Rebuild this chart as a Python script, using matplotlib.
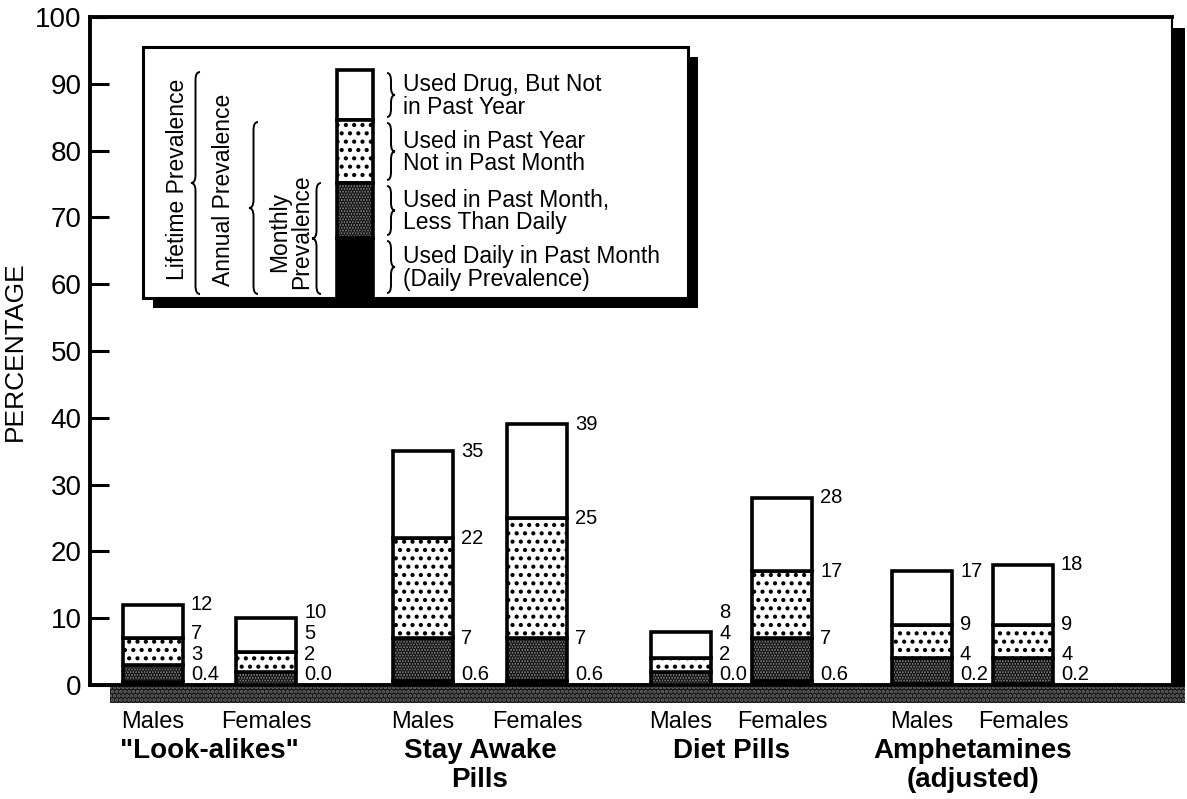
import numpy as np
import matplotlib
matplotlib.use("Agg")
import matplotlib.pyplot as plt
from matplotlib.patches import Rectangle, PathPatch
from matplotlib.path import Path

plt.rcParams['font.family'] = ['Liberation Sans', 'DejaVu Sans']
plt.rcParams['hatch.linewidth'] = 1.8

# prevalence by drug and sex (percent)
drugs = ['"Look-alikes"', 'Stay Awake\nPills', 'Diet Pills', 'Amphetamines\n(adjusted)']
sexes = ['Males', 'Females']
lifetime = [12, 10, 35, 39, 8, 28, 17, 18]
annual = [7, 5, 22, 25, 4, 17, 9, 9]
monthly = [3, 2, 7, 7, 2, 7, 4, 4]
daily = [0.4, 0.0, 0.6, 0.6, 0.0, 0.6, 0.2, 0.2]
daily_txt = ['0.4', '0.0', '0.6', '0.6', '0.0', '0.6', '0.2', '0.2']

# bar centres on a pixel-like x scale
xpos = [153, 266, 423, 537, 681, 782, 922, 1023]
bw = 60

W, H = 1187, 799
fig = plt.figure(figsize=(W / 100, H / 100), dpi=100)
ax = fig.add_axes([90 / W, 1 - 685 / H, (1172 - 90) / W, (685 - 17) / H])
ax.set_xlim(90, 1172)
ax.set_ylim(0, 100)

lw = 2.6
dot_fill = dict(facecolor='white', edgecolor='black', hatch='..', linewidth=lw)
grey_fill = dict(facecolor='#8e8e8e', edgecolor='black', hatch='......', linewidth=lw)

for i, x in enumerate(xpos):
    ax.bar(x, daily[i], bw, color='black', edgecolor='black', linewidth=lw, zorder=3)
    ax.bar(x, monthly[i] - daily[i], bw, bottom=daily[i], zorder=3, **grey_fill)
    ax.bar(x, annual[i] - monthly[i], bw, bottom=monthly[i], zorder=3, **dot_fill)
    ax.bar(x, lifetime[i] - annual[i], bw, bottom=annual[i], zorder=3,
           facecolor='white', edgecolor='black', linewidth=lw)

    # value labels, pushed apart when the segments are thin
    tx = x + bw / 2 + 8
    y0 = 1.5
    y1 = max(monthly[i], y0 + 3.1)
    y2 = max(annual[i], y1 + 3.1)
    y3 = max(lifetime[i], y2 + 3.1)
    for yy, s in [(y0, daily_txt[i]), (y1, str(monthly[i])), (y2, str(annual[i])), (y3, str(lifetime[i]))]:
        ax.text(tx, yy, s, fontsize=14.5, va='center', ha='left', zorder=4)

ax.set_yticks(np.arange(0, 101, 10))
ax.tick_params(axis='y', direction='in', length=14, width=2.2, labelsize=20, pad=6)
ax.set_xticks(xpos)
ax.set_xticklabels(sexes * 4, fontsize=17)
ax.tick_params(axis='x', length=0, pad=19)
ax.set_ylabel('PERCENTAGE', fontsize=19, labelpad=6)
for sp in ['left', 'top', 'bottom']:
    ax.spines[sp].set_linewidth(2.8)
ax.spines['right'].set_linewidth(1.5)

for k, name in enumerate(drugs):
    gx = (xpos[2 * k] + xpos[2 * k + 1]) / 2
    ax.text(gx, -0.080, name, transform=ax.get_xaxis_transform(), ha='center', va='top',
            fontsize=20, fontweight='bold', linespacing=1.15)

# overlay in pixel units for the shadows and the key
lay = fig.add_axes([0, 0, 1, 1], zorder=5)
lay.set_xlim(0, W)
lay.set_ylim(H, 0)
lay.axis('off')
lay.patch.set_alpha(0)

lay.add_patch(Rectangle((1172, 28), 13, 662, facecolor='black', edgecolor='none'))
lay.add_patch(Rectangle((110, 687), 1075, 16, facecolor='#141414', edgecolor='none'))
lay.add_patch(Rectangle((110, 687), 1075, 16, facecolor='none', edgecolor='#6e6e6e',
                        hatch='....', linewidth=0))


def brace(x, y0, y1, w, right=False):
    # curly brace in pixel units; the tip points left unless right=True
    s = -1 if right else 1
    ym = (y0 + y1) / 2
    c = min(8, (y1 - y0) / 4)
    xs = x + s * w / 2
    verts = [(x + s * w, y0), (xs, y0), (xs, y0 + c),
             (xs, ym - c), (xs, ym), (x, ym),
             (xs, ym), (xs, ym + c),
             (xs, y1 - c), (xs, y1), (x + s * w, y1)]
    codes = [Path.MOVETO, Path.CURVE3, Path.CURVE3,
             Path.LINETO, Path.CURVE3, Path.CURVE3,
             Path.CURVE3, Path.CURVE3,
             Path.LINETO, Path.CURVE3, Path.CURVE3]
    lay.add_patch(PathPatch(Path(verts, codes), facecolor='none', edgecolor='black', lw=1.4))


lay.add_patch(Rectangle((153, 57), 545, 251, facecolor='black', edgecolor='none'))
lay.add_patch(Rectangle((143, 47), 545, 251, facecolor='white', edgecolor='black', linewidth=2.2))

seg = [70, 120, 183, 238, 296]
lay.add_patch(Rectangle((337, seg[0]), 36, seg[1] - seg[0], facecolor='white', edgecolor='black', linewidth=lw))
lay.add_patch(Rectangle((337, seg[1]), 36, seg[2] - seg[1], **dot_fill))
lay.add_patch(Rectangle((337, seg[2]), 36, seg[3] - seg[2], **grey_fill))
lay.add_patch(Rectangle((337, seg[3]), 36, seg[4] - seg[3], facecolor='black', edgecolor='black', linewidth=lw))

key_txt = ['Used Drug, But Not\nin Past Year', 'Used in Past Year\nNot in Past Month',
           'Used in Past Month,\nLess Than Daily', 'Used Daily in Past Month\n(Daily Prevalence)']
for j in range(4):
    brace(395, seg[j] + 3, seg[j + 1] - 3, 8, right=True)
    lay.text(403, (seg[j] + seg[j + 1]) / 2 + 1, key_txt[j], fontsize=16.5, va='center', ha='left',
             linespacing=1.0)

brace(191, seg[0] + 2, seg[4] - 2, 9)
lay.text(178, 179, 'Lifetime Prevalence', rotation=90, fontsize=16.5,
         ha='center', va='center')
brace(249, seg[1] + 2, seg[4] - 2, 9)
lay.text(223, 190, 'Annual Prevalence', rotation=90, fontsize=16.5,
         ha='center', va='center')
brace(312, seg[2], seg[4] - 2, 9)
lay.text(291, 232, 'Monthly\nPrevalence', rotation=90, fontsize=16.5,
         ha='center', va='center', linespacing=0.95)

fig.savefig('out.png', dpi=100)
